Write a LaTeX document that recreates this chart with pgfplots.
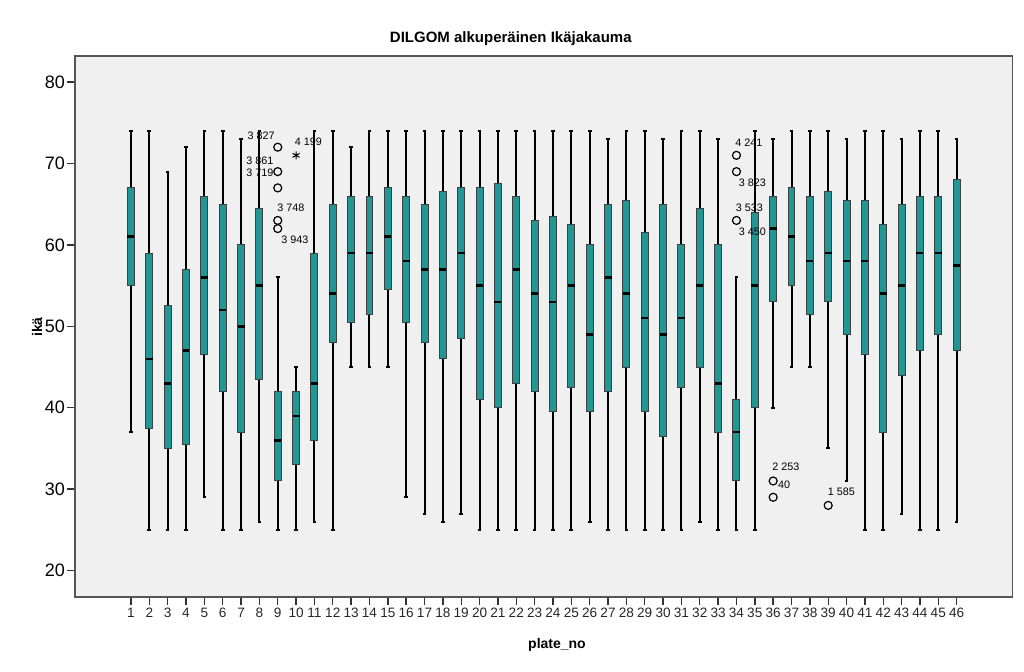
\documentclass[border=0pt]{standalone}
\usepackage{fontspec}
\setmainfont{Liberation Sans}
\usepackage{pgfplots}
\pgfplotsset{compat=1.18}
\usepgfplotslibrary{statistics}
\definecolor{boxfill}{RGB}{34,150,146}
\definecolor{plotbg}{RGB}{240,240,240}
\definecolor{framec}{RGB}{85,85,85}
% position, lower whisker, lower quartile, median, upper quartile, upper whisker
\newcommand{\bp}[6]{\addplot[boxplot prepared={draw position=#1, lower whisker=#2, lower quartile=#3, median=#4, upper quartile=#5, upper whisker=#6}] coordinates {};}

\begin{document}
\begin{tikzpicture}
\path[use as bounding box] (0,0) rectangle (512pt,335.5pt);
\begin{axis}[
  at={(37.5pt,37pt)}, anchor=south west,
  scale only axis, width=468.8pt, height=270.5pt,
  xmin=-2.05, xmax=49.05, ymin=16.75, ymax=83.2,
  axis background/.style={fill=plotbg},
  axis line style={framec, line width=0.8pt},
  tick align=outside, tick pos=left,
  major tick length=3.8pt,
  tick style={black!80, line width=0.7pt},
  xtick={1,...,46}, ytick={20,30,...,80},
  /pgf/number format/assume math mode=true,
  xticklabel style={font=\fontsize{6.8}{7}\selectfont, color=black!85, inner sep=1.5pt},
  yticklabel style={font=\fontsize{9}{10}\selectfont, color=black, inner sep=1pt},
  boxplot/draw direction=y,
  boxplot/box extend=0.38,
  boxplot/whisker extend=0.2,
  boxplot/every box/.style={draw=black!75, fill=boxfill, line width=0.5pt},
  boxplot/every whisker/.style={black, line width=1pt},
  boxplot/every median/.style={black, line width=1.3pt},
  clip=false,
]
\bp{1}{37}{55}{61}{67}{74}
\bp{2}{25}{37.5}{46}{59}{74}
\bp{3}{25}{35}{43}{52.5}{69}
\bp{4}{25}{35.5}{47}{57}{72}
\bp{5}{29}{46.5}{56}{66}{74}
\bp{6}{25}{42}{52}{65}{74}
\bp{7}{25}{37}{50}{60}{73}
\bp{8}{26}{43.5}{55}{64.5}{74}
\bp{9}{25}{31}{36}{42}{56}
\bp{10}{25}{33}{39}{42}{45}
\bp{11}{26}{36}{43}{59}{74}
\bp{12}{25}{48}{54}{65}{74}
\bp{13}{45}{50.5}{59}{66}{72}
\bp{14}{45}{51.5}{59}{66}{74}
\bp{15}{45}{54.5}{61}{67}{74}
\bp{16}{29}{50.5}{58}{66}{74}
\bp{17}{27}{48}{57}{65}{74}
\bp{18}{26}{46}{57}{66.5}{74}
\bp{19}{27}{48.5}{59}{67}{74}
\bp{20}{25}{41}{55}{67}{74}
\bp{21}{25}{40}{53}{67.5}{74}
\bp{22}{25}{43}{57}{66}{74}
\bp{23}{25}{42}{54}{63}{74}
\bp{24}{25}{39.5}{53}{63.5}{74}
\bp{25}{25}{42.5}{55}{62.5}{74}
\bp{26}{26}{39.5}{49}{60}{74}
\bp{27}{25}{42}{56}{65}{73}
\bp{28}{25}{45}{54}{65.5}{74}
\bp{29}{25}{39.5}{51}{61.5}{74}
\bp{30}{25}{36.5}{49}{65}{73}
\bp{31}{25}{42.5}{51}{60}{74}
\bp{32}{26}{45}{55}{64.5}{74}
\bp{33}{25}{37}{43}{60}{73}
\bp{34}{25}{31}{37}{41}{56}
\bp{35}{25}{40}{55}{64}{74}
\bp{36}{40}{53}{62}{66}{73}
\bp{37}{45}{55}{61}{67}{74}
\bp{38}{45}{51.5}{58}{66}{74}
\bp{39}{35}{53}{59}{66.5}{74}
\bp{40}{31}{49}{58}{65.5}{73}
\bp{41}{25}{46.5}{58}{65.5}{74}
\bp{42}{25}{37}{54}{62.5}{74}
\bp{43}{27}{44}{55}{65}{73}
\bp{44}{25}{47}{59}{66}{74}
\bp{45}{25}{49}{59}{66}{74}
\bp{46}{26}{47}{57.5}{68}{73}
\addplot[only marks, mark=o, mark size=2pt, mark options={black, line width=0.6pt}]
  coordinates {(9,72) (9,69) (9,67) (9,63) (9,62) (34,71) (34,69) (34,63) (36,31) (36,29) (39,28)};
\addplot[only marks, mark=asterisk, mark size=2pt, mark options={black, line width=0.5pt}]
  coordinates {(10,71)};
\begin{scope}[every node/.style={font=\fontsize{5.4}{6}\selectfont, inner sep=0pt}]
\node at (axis cs:8.1,73.4) {3 827};
\node at (axis cs:10.67,72.7) {4 199};
\node at (axis cs:8.03,70.3) {3 861};
\node at (axis cs:8.03,68.9) {3 719};
\node at (axis cs:9.72,64.6) {3 748};
\node at (axis cs:9.94,60.6) {3 943};
\node at (axis cs:34.68,72.6) {4 241};
\node at (axis cs:34.87,67.6) {3 823};
\node at (axis cs:34.71,64.6) {3 533};
\node at (axis cs:34.87,61.6) {3 450};
\node at (axis cs:36.69,32.8) {2 253};
\node at (axis cs:36.6,30.55) {40};
\node at (axis cs:39.72,29.7) {1 585};
\end{scope}
\end{axis}
\node[font=\bfseries\fontsize{7.5}{8}\selectfont] at (255.4pt,316.3pt) {DILGOM alkuperäinen Ikäjakauma};
\node[font=\bfseries\fontsize{7}{8}\selectfont, rotate=90] at (18.5pt,172pt) {ikä};
\node[font=\bfseries\fontsize{7}{8}\selectfont] at (278.5pt,13pt) {plate\_no};
\end{tikzpicture}
\end{document}
